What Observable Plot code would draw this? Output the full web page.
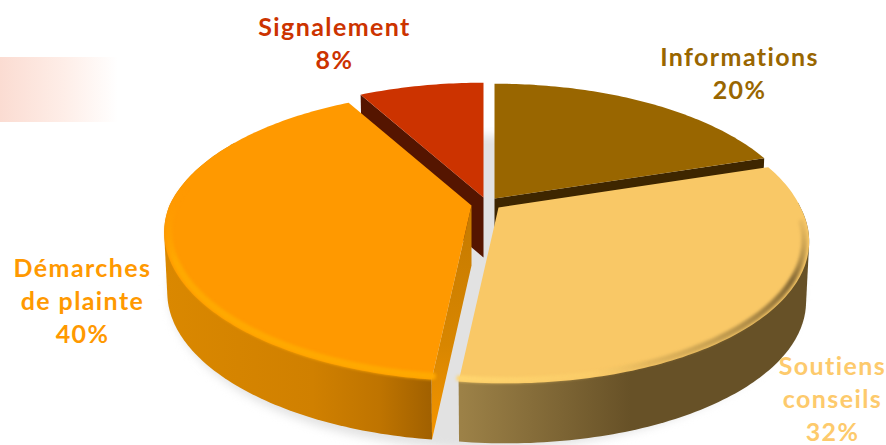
<!DOCTYPE html>
<html lang="fr">
<head>
<meta charset="utf-8">
<title>Répartition des demandes</title>
<script src="https://cdn.jsdelivr.net/npm/d3@7"></script>
<script src="https://cdn.jsdelivr.net/npm/@observablehq/plot@0.6"></script>
<style>
  html, body { margin: 0; padding: 0; background: #fff; }
  svg { display: block; }
  svg text { letter-spacing: 1.4px; }
</style>
</head>
<body>
<div id="chart"></div>
<script>
// Chart values
const categories = ["Informations", "Soutiens conseils", "Démarches de plainte", "Signalement"];
const labelLines = ["Informations", "Soutiens\nconseils", "Démarches\nde plainte", "Signalement"];
const shares = [20, 32, 40, 8];

// Slice colours
const topColors = ["#996600", "#f9c866", "#ff9900", "#cc3300"];
const cutColors = ["#3e2600", "#5f4a22", "url(#cutOrange)", "#551500"];
const labelColors = ["#996600", "#fdca6c", "#ff9900", "#cc3300"];

// Tilted-disc geometry, in pixels
const width = 886, height = 445;
const radius = 302, tilt = 0.46, perspective = 0.21, nearShift = 8;
const depth = 60, baseScale = 0.99;
const apexes = [[494, 198], [498, 207], [471, 205], [483, 197]];
const labelSpots = [[739, 71], [832, 397], [82, 299], [334, 41]];

const rad = (d) => d * Math.PI / 180;

// Projects a pie angle (degrees clockwise from north) onto the page
function project([ax, ay], angle, r = 1, base = false) {
  const sin = Math.sin(rad(angle)) * r, cos = Math.cos(rad(angle)) * r;
  const s = 1 / (1 + perspective * cos);
  const dx = radius * sin * s + nearShift * Math.max(0, -cos);
  const dy = -radius * tilt * cos * s;
  return base
    ? {x: ax + dx * baseScale, y: ay + dy + depth}
    : {x: ax + dx, y: ay + dy};
}

function arc(apex, a0, a1, r = 1, base = false) {
  const n = Math.ceil(Math.abs(a1 - a0));
  return d3.range(n + 1).map((i) => project(apex, a0 + (a1 - a0) * i / n, r, base));
}

// Slice angles come straight from the shares
const total = d3.sum(shares);
const slices = categories.map((name, i) => {
  const a0 = d3.sum(shares.slice(0, i)) / total * 360;
  const a1 = a0 + shares[i] / total * 360;
  return {name, a0, a1, apex: apexes[i], share: shares[i], i};
});

const poly = (points, fill, options = {}) =>
  Plot.line(points, {x: "x", y: "y", fill, stroke: "none", curve: "linear", ...options});

const topFace = (s) => poly([{x: s.apex[0], y: s.apex[1]}, ...arc(s.apex, s.a0, s.a1)], topColors[s.i]);

// The side of the disc is the hull of its top and bottom arcs, so the silhouette stays convex
const outerWall = (s, a0, a1, fill) => {
  const hull = d3.polygonHull(
    [...arc(s.apex, a0, a1), ...arc(s.apex, a0, a1, 1, true)].map((p) => [p.x, p.y])
  );
  return poly(hull.map(([x, y]) => ({x, y})), fill);
};
const cutWall = (s, angle) => {
  const edge = project(s.apex, angle), edgeBase = project(s.apex, angle, 1, true);
  return poly([
    {x: s.apex[0], y: s.apex[1]}, edge, edgeBase,
    {x: s.apex[0], y: s.apex[1] + depth}
  ], cutColors[s.i]);
};
const rim = (s, a0, a1, stroke, strokeWidth, inset, blur) =>
  Plot.line(arc(s.apex, a0, a1, inset), {
    x: "x", y: "y", stroke, strokeWidth, fill: "none", imageFilter: `blur(${blur}px)`
  });

// Gradient definitions, in page coordinates
function gradient(defs, id, [x1, y1, x2, y2], stops) {
  const g = defs.append("linearGradient").attr("id", id)
    .attr("gradientUnits", "userSpaceOnUse")
    .attr("x1", x1).attr("y1", y1).attr("x2", x2).attr("y2", y2);
  for (const [offset, color, opacity = 1] of stops) {
    g.append("stop").attr("offset", offset).attr("stop-color", color).attr("stop-opacity", opacity);
  }
}
const defsMark = () => {
  const defs = d3.create("svg:defs");
  gradient(defs, "band", [0, 0, 118, 0], [[0, "#fbdcd2"], [0.55, "#feeee8"], [1, "#ffffff"]]);
  gradient(defs, "wallYellow", [461, 0, 630, 0], [[0, "#9c8147"], [1, "#675127"]]);
  gradient(defs, "wallOrange", [165, 0, 432, 0], [[0, "#da8800"], [0.55, "#d08000"], [0.8, "#bf7400"], [1, "#a06000"]]);
  gradient(defs, "cutOrange", [0, 230, 0, 437], [[0, "#c87c00"], [0.55, "#d88600"], [1, "#f59500"]]);
  gradient(defs, "rimOrange", [0, 185, 0, 262], [[0, "#ff9900", 0], [1, "#ffa900", 1]]);
  gradient(defs, "rimYellowLight", [461, 0, 650, 0], [[0, "#ffd56e", 1], [1, "#ffd56e", 0]]);
  gradient(defs, "rimYellowDark", [810, 222, 610, 392], [
    [0, "#7a6030", 0], [0.2, "#7a6030", 0.9], [0.6, "#b7934a", 0.7], [1, "#b7934a", 0]
  ]);
  return defs.node();
};

const [info, soutien, plainte, signal] = slices;
const shadowCenter = [485, 292];

const chart = Plot.plot({
  width, height,
  margin: 0,
  x: {domain: [0, width], range: [0, width], axis: null},
  y: {domain: [0, height], range: [0, height], axis: null},
  style: {background: "#fff"},
  marks: [
    defsMark,
    // Pale banner at the left edge
    Plot.rect([{x1: 0, x2: 118, y1: 57, y2: 122}], {x1: "x1", x2: "x2", y1: "y1", y2: "y2", fill: "url(#band)"}),
    // Soft shadow under the whole pie
    poly(d3.range(0, 361, 2).map((a) => ({
      x: shadowCenter[0] + 316 * Math.sin(rad(a)),
      y: shadowCenter[1] - 157 * Math.cos(rad(a))
    })), "#e2e2e2", {imageFilter: "blur(5px)"}),

    // Back slices
    cutWall(info, info.a1),
    topFace(info),
    cutWall(signal, signal.a0),
    topFace(signal),

    // Démarches de plainte
    outerWall(plainte, plainte.a0, 300, "url(#wallOrange)"),
    cutWall(plainte, plainte.a0),
    topFace(plainte),
    rim(plainte, plainte.a0, 300, "url(#rimOrange)", 7, 0.985, 1.5),

    // Soutiens conseils
    outerWall(soutien, 88, soutien.a1, "url(#wallYellow)"),
    topFace(soutien),
    rim(soutien, 96, soutien.a1, "url(#rimYellowDark)", 6, 0.985, 1.8),
    rim(soutien, 130, soutien.a1, "url(#rimYellowLight)", 6, 0.985, 1.5),

    // Labels: name, then the share as a percentage
    Plot.text(slices, {
      x: (d) => labelSpots[d.i][0],
      y: (d) => labelSpots[d.i][1],
      text: (d) => `${labelLines[d.i]}\n${d.share}%`,
      fill: (d) => labelColors[d.i],
      fontFamily: "Lato",
      fontWeight: 700,
      fontSize: 25,
      lineHeight: 1.33,
      textAnchor: "middle",
      lineAnchor: "middle"
    })
  ],
  color: {type: "identity"}
});

document.getElementById("chart").append(chart);
</script>
</body>
</html>
